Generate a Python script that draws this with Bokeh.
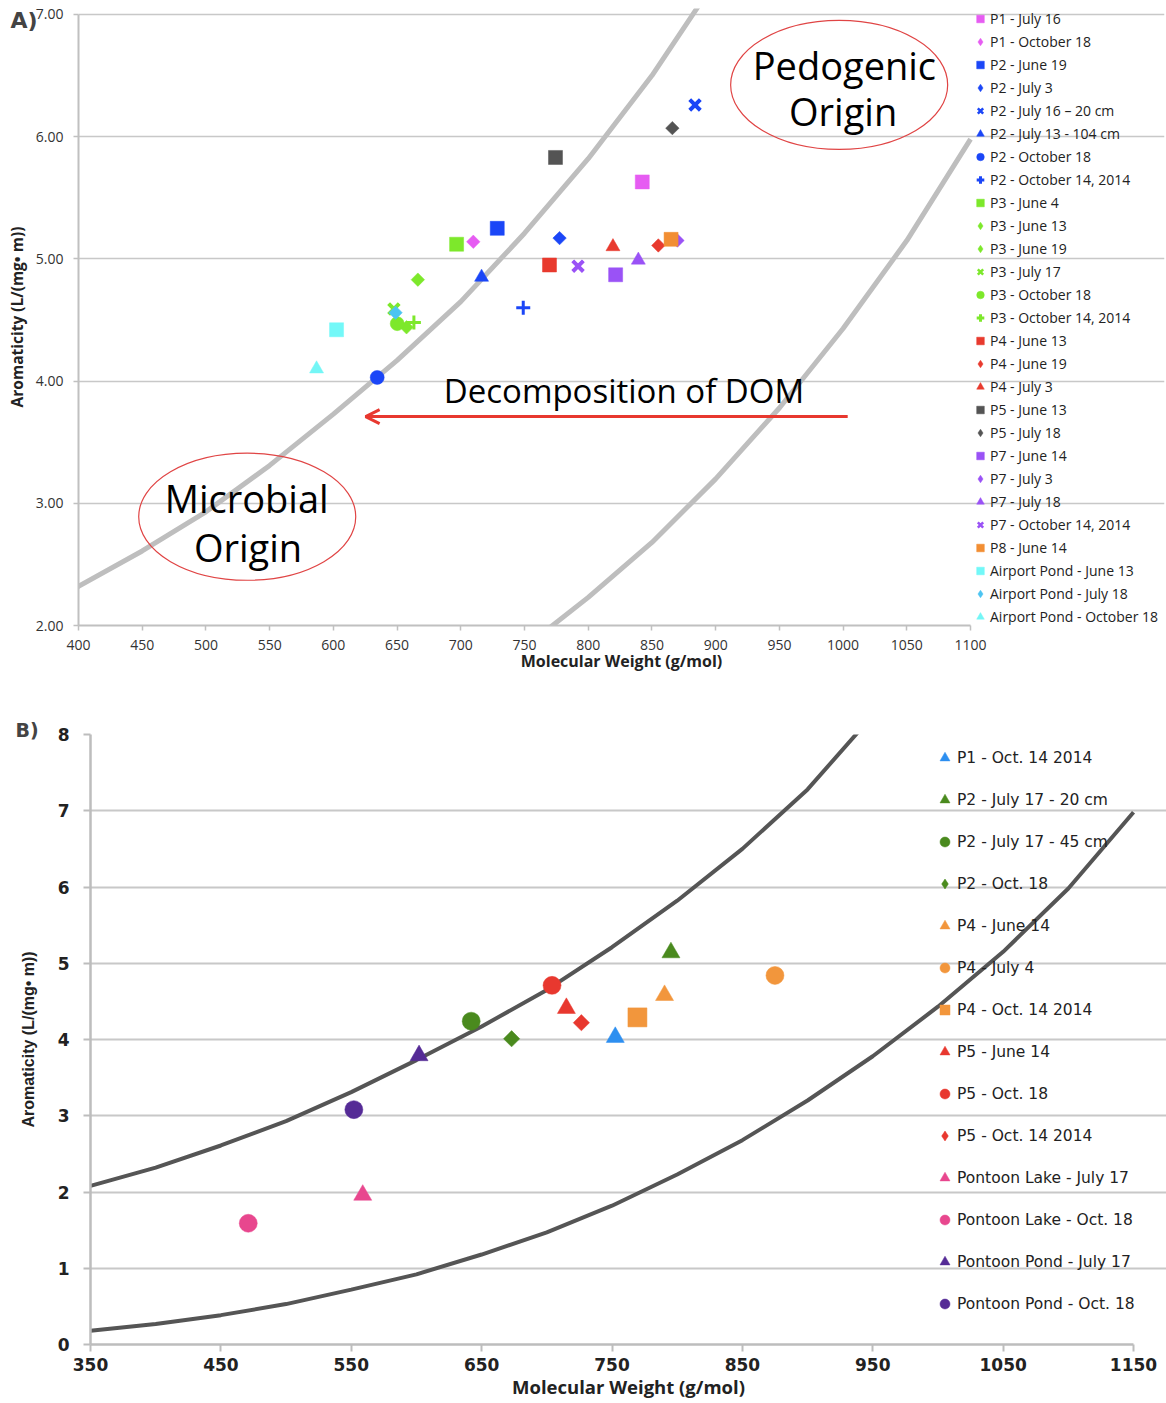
import math
from bokeh.plotting import figure
from bokeh.models import (Range1d, FixedTicker, NumeralTickFormatter, Legend, LegendItem,
                          Label, Arrow, OpenHead)
from bokeh.embed import file_html
from bokeh.resources import INLINE

# ---------------- Panel A data ----------------
series_a = ["P1 - July 16", "P1 - October 18", "P2 - June 19", "P2 - July 3",
            "P2 - July 16 \u2013 20 cm", "P2 - July 13 - 104 cm", "P2 - October 18",
            "P2 - October 14, 2014", "P3 - June 4", "P3 - June 13", "P3 - June 19",
            "P3 - July 17", "P3 - October 18", "P3 - October 14, 2014", "P4 - June 13",
            "P4 - June 19", "P4 - July 3", "P5 - June 13", "P5 - July 18", "P7 - June 14",
            "P7 - July 3", "P7 - July 18", "P7 - October 14, 2014", "P8 - June 14",
            "Airport Pond - June 13", "Airport Pond - July 18", "Airport Pond - October 18"]
mw_a = [842.4, 709.8, 728.6, 777.5, 883.8, 716.3, 634.4, 749.0, 696.7, 666.3, 657.4,
        647.5, 650.1, 663.2, 769.6, 855.0, 819.4, 774.3, 866.0, 821.5, 870.0, 839.3,
        792.0, 865.0, 602.5, 648.8, 586.8]
arom_a = [5.63, 5.14, 5.25, 5.17, 6.26, 4.85, 4.03, 4.60, 5.12, 4.83, 4.44,
          4.59, 4.47, 4.48, 4.95, 5.11, 5.10, 5.83, 6.07, 4.87, 5.15, 4.99,
          4.94, 5.16, 4.42, 4.56, 4.10]
colors_a = ["#E65CF2", "#E65CF2", "#1B46F7", "#1B46F7", "#1B46F7", "#1B46F7", "#1B46F7",
            "#1B46F7", "#7DE82B", "#7DE82B", "#7DE82B", "#7DE82B", "#7DE82B", "#7DE82B",
            "#E83A2E", "#E83A2E", "#E83A2E", "#545454", "#545454", "#9A52F6", "#9A52F6",
            "#9A52F6", "#9A52F6", "#F28E33", "#73F8F8", "#4CC4F2", "#74F6F6"]
markers_a = ["sq", "dia", "sq", "dia", "x", "tri", "cir", "plus", "sq", "dia", "dia",
             "x", "cir", "plus", "sq", "dia", "tri", "sq", "dia", "sq", "dia", "tri",
             "x", "sq", "sq", "dia", "tri"]

# ---------------- Panel B data ----------------
series_b = ["P1 - Oct. 14 2014", "P2 - July 17 - 20 cm", "P2 - July 17 - 45 cm", "P2 - Oct. 18",
            "P4 - June 14", "P4 - July 4", "P4 - Oct. 14 2014", "P5 - June 14", "P5 - Oct. 18",
            "P5 - Oct. 14 2014", "Pontoon Lake - July 17", "Pontoon Lake - Oct. 18",
            "Pontoon Pond - July 17", "Pontoon Pond - Oct. 18"]
mw_b = [752.5, 795.2, 642.0, 673.0, 790.3, 875.0, 769.5, 715.0, 704.0, 726.5, 558.8, 471.0,
        602.0, 552.0]
arom_b = [4.03, 5.14, 4.24, 4.01, 4.58, 4.84, 4.29, 4.41, 4.71, 4.22, 1.96, 1.59, 3.79, 3.08]
colors_b = ["#2D8FF0", "#4A8A1E", "#4A8A1E", "#4A8A1E", "#F2963C", "#F2963C", "#F2963C",
            "#E8382F", "#E8382F", "#E8382F", "#E8478E", "#E8478E", "#552B96", "#552B96"]
markers_b = ["tri", "tri", "cir", "dia", "tri", "cir", "sq", "tri", "cir", "dia", "tri", "cir",
             "tri", "cir"]

# ---------------- boundary curves ----------------
curve_mw = [350, 400, 450, 500, 550, 600, 650, 700, 750, 800, 850, 900, 950, 1000, 1050,
            1100, 1150]
microbial_curve = [2.08, 2.32, 2.61, 2.93, 3.31, 3.73, 4.17, 4.65, 5.21, 5.82, 6.50, 7.28, 8.25]
pedogenic_curve = [0.18, 0.27, 0.385, 0.53, 0.72, 0.92, 1.18, 1.47, 1.82, 2.23, 2.68, 3.20,
                   3.78, 4.43, 5.15, 5.98, 6.98]

ticks_a_x = [400, 450, 500, 550, 600, 650, 700, 750, 800, 850, 900, 950, 1000, 1050, 1100]
ticks_a_y = [2, 3, 4, 5, 6, 7]
ticks_b_x = [350, 450, 550, 650, 750, 850, 950, 1050, 1150]
ticks_b_y = [0, 1, 2, 3, 4, 5, 6, 7, 8]

# marker styles: (bokeh marker, angle, legend marker)
STYLE = {"sq": ("square", 0.0, "square"), "dia": ("square", math.pi / 4, "diamond"),
         "tri": ("triangle", 0.0, "triangle"), "cir": ("circle", 0.0, "circle"),
         "x": ("x", 0.0, "x"), "plus": ("cross", 0.0, "cross")}
SIZE_A = {"sq": 14, "dia": 9.5, "tri": 14, "cir": 14, "x": 15, "plus": 14}
SIZE_B = {"sq": 19, "dia": 11.5, "tri": 18, "cir": 18, "x": 18, "plus": 18}
LW = {"x": 4, "plus": 3}


def add_points(p, names, xs, ys, cols, marks, sizes):
    items = []
    for n, x, y, c, m in zip(names, xs, ys, cols, marks):
        mk, ang, leg_mk = STYLE[m]
        key = None
        if m in ("dia", "x"):
            # key glyph (drawn first, hidden under the real marker) so the legend
            # shows a diamond / a lighter cross
            key = p.scatter([x], [y], marker=leg_mk, size=sizes[m] * 0.95, fill_color=c,
                            line_color=c, line_width=2.5 if m == "x" else 0.5)
        r = p.scatter([x], [y], marker=mk, angle=ang, size=sizes[m], fill_color=c,
                      line_color=c, line_width=LW.get(m, 0.5))
        items.append(LegendItem(label=n, renderers=[key if key is not None else r]))
    return items


# ================= Figure A =================
# the plotting frame is widened to the right so that the legend sits inside it;
# grid and axis are bounded to the data range
A_X_END = 1252.2
A_Y_END = 7.049
pA = figure(width=1166, height=698, x_range=Range1d(400, A_X_END), y_range=Range1d(2, A_Y_END),
            output_backend="svg", toolbar_location=None, sizing_mode="fixed",
            min_border_left=78, min_border_right=2, min_border_top=8, min_border_bottom=73)
pA.outline_line_color = None
pA.xgrid.grid_line_color = None
pA.ygrid.grid_line_color = "#C8C8C8"
pA.ygrid.grid_line_width = 1.5
pA.ygrid.ticker = FixedTicker(ticks=ticks_a_y)
pA.ygrid.bounds = (400, 1100)
pA.xaxis.ticker = FixedTicker(ticks=ticks_a_x)
pA.xaxis.bounds = (400, 1100)
pA.yaxis.ticker = FixedTicker(ticks=ticks_a_y)
pA.yaxis.bounds = (2, 7)
pA.yaxis.formatter = NumeralTickFormatter(format="0.00")
for ax in (pA.xaxis[0], pA.yaxis[0]):
    ax.axis_line_color = "#C0C0C0"
    ax.axis_line_width = 2
    ax.major_tick_line_color = "#C0C0C0"
    ax.major_tick_line_width = 1.5
    ax.major_tick_in = 0
    ax.major_tick_out = 5
    ax.minor_tick_line_color = None
    ax.major_label_text_font = "Open Sans"
    ax.major_label_text_font_size = "14px"
    ax.major_label_text_color = "#333333"
    ax.axis_label_text_font = "Open Sans"
    ax.axis_label_text_font_style = "bold"
    ax.axis_label_text_color = "#222222"
pA.xaxis.axis_label = "Molecular Weight (g/mol)"
pA.xaxis.axis_label_text_font_size = "16px"
pA.xaxis.major_label_standoff = 9
pA.xaxis.axis_label_standoff = -3
pA.yaxis.axis_label = "Aromaticity (L/(mg\u2022 m))"
pA.yaxis.axis_label_text_font_size = "15.5px"
pA.yaxis.major_label_standoff = 10
pA.yaxis.axis_label_standoff = 5

pA.title.text = "A)"
pA.title.align = "left"
pA.title.offset = -68
pA.title.standoff = -48
pA.title.text_font = "DejaVu Sans"
pA.title.text_font_style = "bold"
pA.title.text_font_size = "22px"

n_a_curve = curve_mw.index(1100) + 1
pA.line(curve_mw[:len(microbial_curve)], microbial_curve, line_color="#BEBEBE", line_width=5)
pA.line(curve_mw[:n_a_curve], pedogenic_curve[:n_a_curve], line_color="#BEBEBE", line_width=5)

items_a = add_points(pA, series_a, mw_a, arom_a, colors_a, markers_a, SIZE_A)

# annotations
pA.ellipse(x=[996.9], y=[6.424], width=[170.3], height=[1.056], fill_color=None,
           line_color="#E04545", line_width=1.2)
pA.ellipse(x=[532.4], y=[2.89], width=[170.3], height=[1.04], fill_color=None,
           line_color="#E04545", line_width=1.2)
for txt, x, y in [("Pedogenic", 1001, 6.59), ("Origin", 1000, 6.21),
                  ("Microbial", 532, 3.04), ("Origin", 533, 2.64)]:
    pA.add_layout(Label(x=x, y=y, text=txt, text_align="center", text_baseline="middle",
                        text_font="Open Sans", text_font_size="38px", text_color="black"))
pA.add_layout(Label(x=828, y=3.92, text="Decomposition of DOM", text_align="center",
                    text_baseline="middle", text_font="Open Sans", text_font_size="33px",
                    text_color="black"))
pA.add_layout(Arrow(end=OpenHead(size=14, line_color="#E8382F", line_width=3),
                    x_start=1003.6, y_start=3.71, x_end=625.3, y_end=3.71,
                    line_color="#E8382F", line_width=3))

legA = Legend(items=items_a, location=(892, -1), orientation="vertical", ncols=1,
              glyph_width=20, glyph_height=19, label_height=19, spacing=4,
              label_standoff=0, padding=0, margin=0,
              label_text_font="Open Sans", label_text_font_size="14px",
              label_text_color="#222222", border_line_color=None,
              background_fill_alpha=0)
pA.add_layout(legA)

# ================= Figure B =================
# frame widened to the right for the legend; grid and axis bounded to 350-1150
B_X_END = 1175.3
pB = figure(width=1166, height=705, x_range=Range1d(350, B_X_END), y_range=Range1d(0, 8),
            output_backend="svg", toolbar_location=None, sizing_mode="fixed",
            min_border_left=90, min_border_right=0, min_border_top=36, min_border_bottom=59)
pB.outline_line_color = None
pB.xgrid.grid_line_color = None
pB.ygrid.grid_line_color = "#C8C8C8"
pB.ygrid.grid_line_width = 2
pB.ygrid.ticker = FixedTicker(ticks=ticks_b_y)
pB.ygrid.bounds = (350, 1150)
pB.xaxis.ticker = FixedTicker(ticks=ticks_b_x)
pB.xaxis.bounds = (350, 1150)
pB.yaxis.ticker = FixedTicker(ticks=ticks_b_y)
for ax in (pB.xaxis[0], pB.yaxis[0]):
    ax.axis_line_color = "#BDBDBD"
    ax.axis_line_width = 2.5
    ax.major_tick_line_color = "#BDBDBD"
    ax.major_tick_line_width = 2
    ax.major_tick_in = 0
    ax.major_tick_out = 7
    ax.minor_tick_line_color = None
    ax.major_label_text_font = "DejaVu Sans"
    ax.major_label_text_font_style = "bold"
    ax.major_label_text_font_size = "17px"
    ax.major_label_text_color = "#222222"
    ax.axis_label_text_font = "Open Sans"
    ax.axis_label_text_font_style = "bold"
    ax.axis_label_text_color = "#222222"
pB.xaxis.axis_label = "Molecular Weight (g/mol)"
pB.xaxis.axis_label_text_font_size = "18.5px"
pB.xaxis.major_label_standoff = 6
pB.xaxis.axis_label_standoff = 0
pB.yaxis.axis_label = "Aromaticity (L/(mg\u2022 m))"
pB.yaxis.axis_label_text_font = "Liberation Sans"
pB.yaxis.axis_label_text_font_size = "16px"
pB.yaxis.major_label_standoff = 14
pB.yaxis.axis_label_standoff = 18

pB.title.text = "B)"
pB.title.align = "left"
pB.title.offset = -75
pB.title.standoff = -12
pB.title.text_font = "DejaVu Sans"
pB.title.text_font_style = "bold"
pB.title.text_font_size = "19px"

pB.line(curve_mw[:len(microbial_curve)], microbial_curve, line_color="#555555", line_width=4)
pB.line(curve_mw, pedogenic_curve, line_color="#555555", line_width=4)

items_b = add_points(pB, series_b, mw_b, arom_b, colors_b, markers_b, SIZE_B)

legB = Legend(items=items_b, location=(842, 28), orientation="vertical", ncols=1,
              glyph_width=25, glyph_height=25, label_height=25, spacing=17,
              label_standoff=0, padding=0, margin=0,
              label_text_font="DejaVu Sans", label_text_font_size="15.5px",
              label_text_color="#222222", border_line_color=None,
              background_fill_alpha=0)
pB.add_layout(legB)

open("out.html", "w").write(file_html([pA, pB], INLINE))
